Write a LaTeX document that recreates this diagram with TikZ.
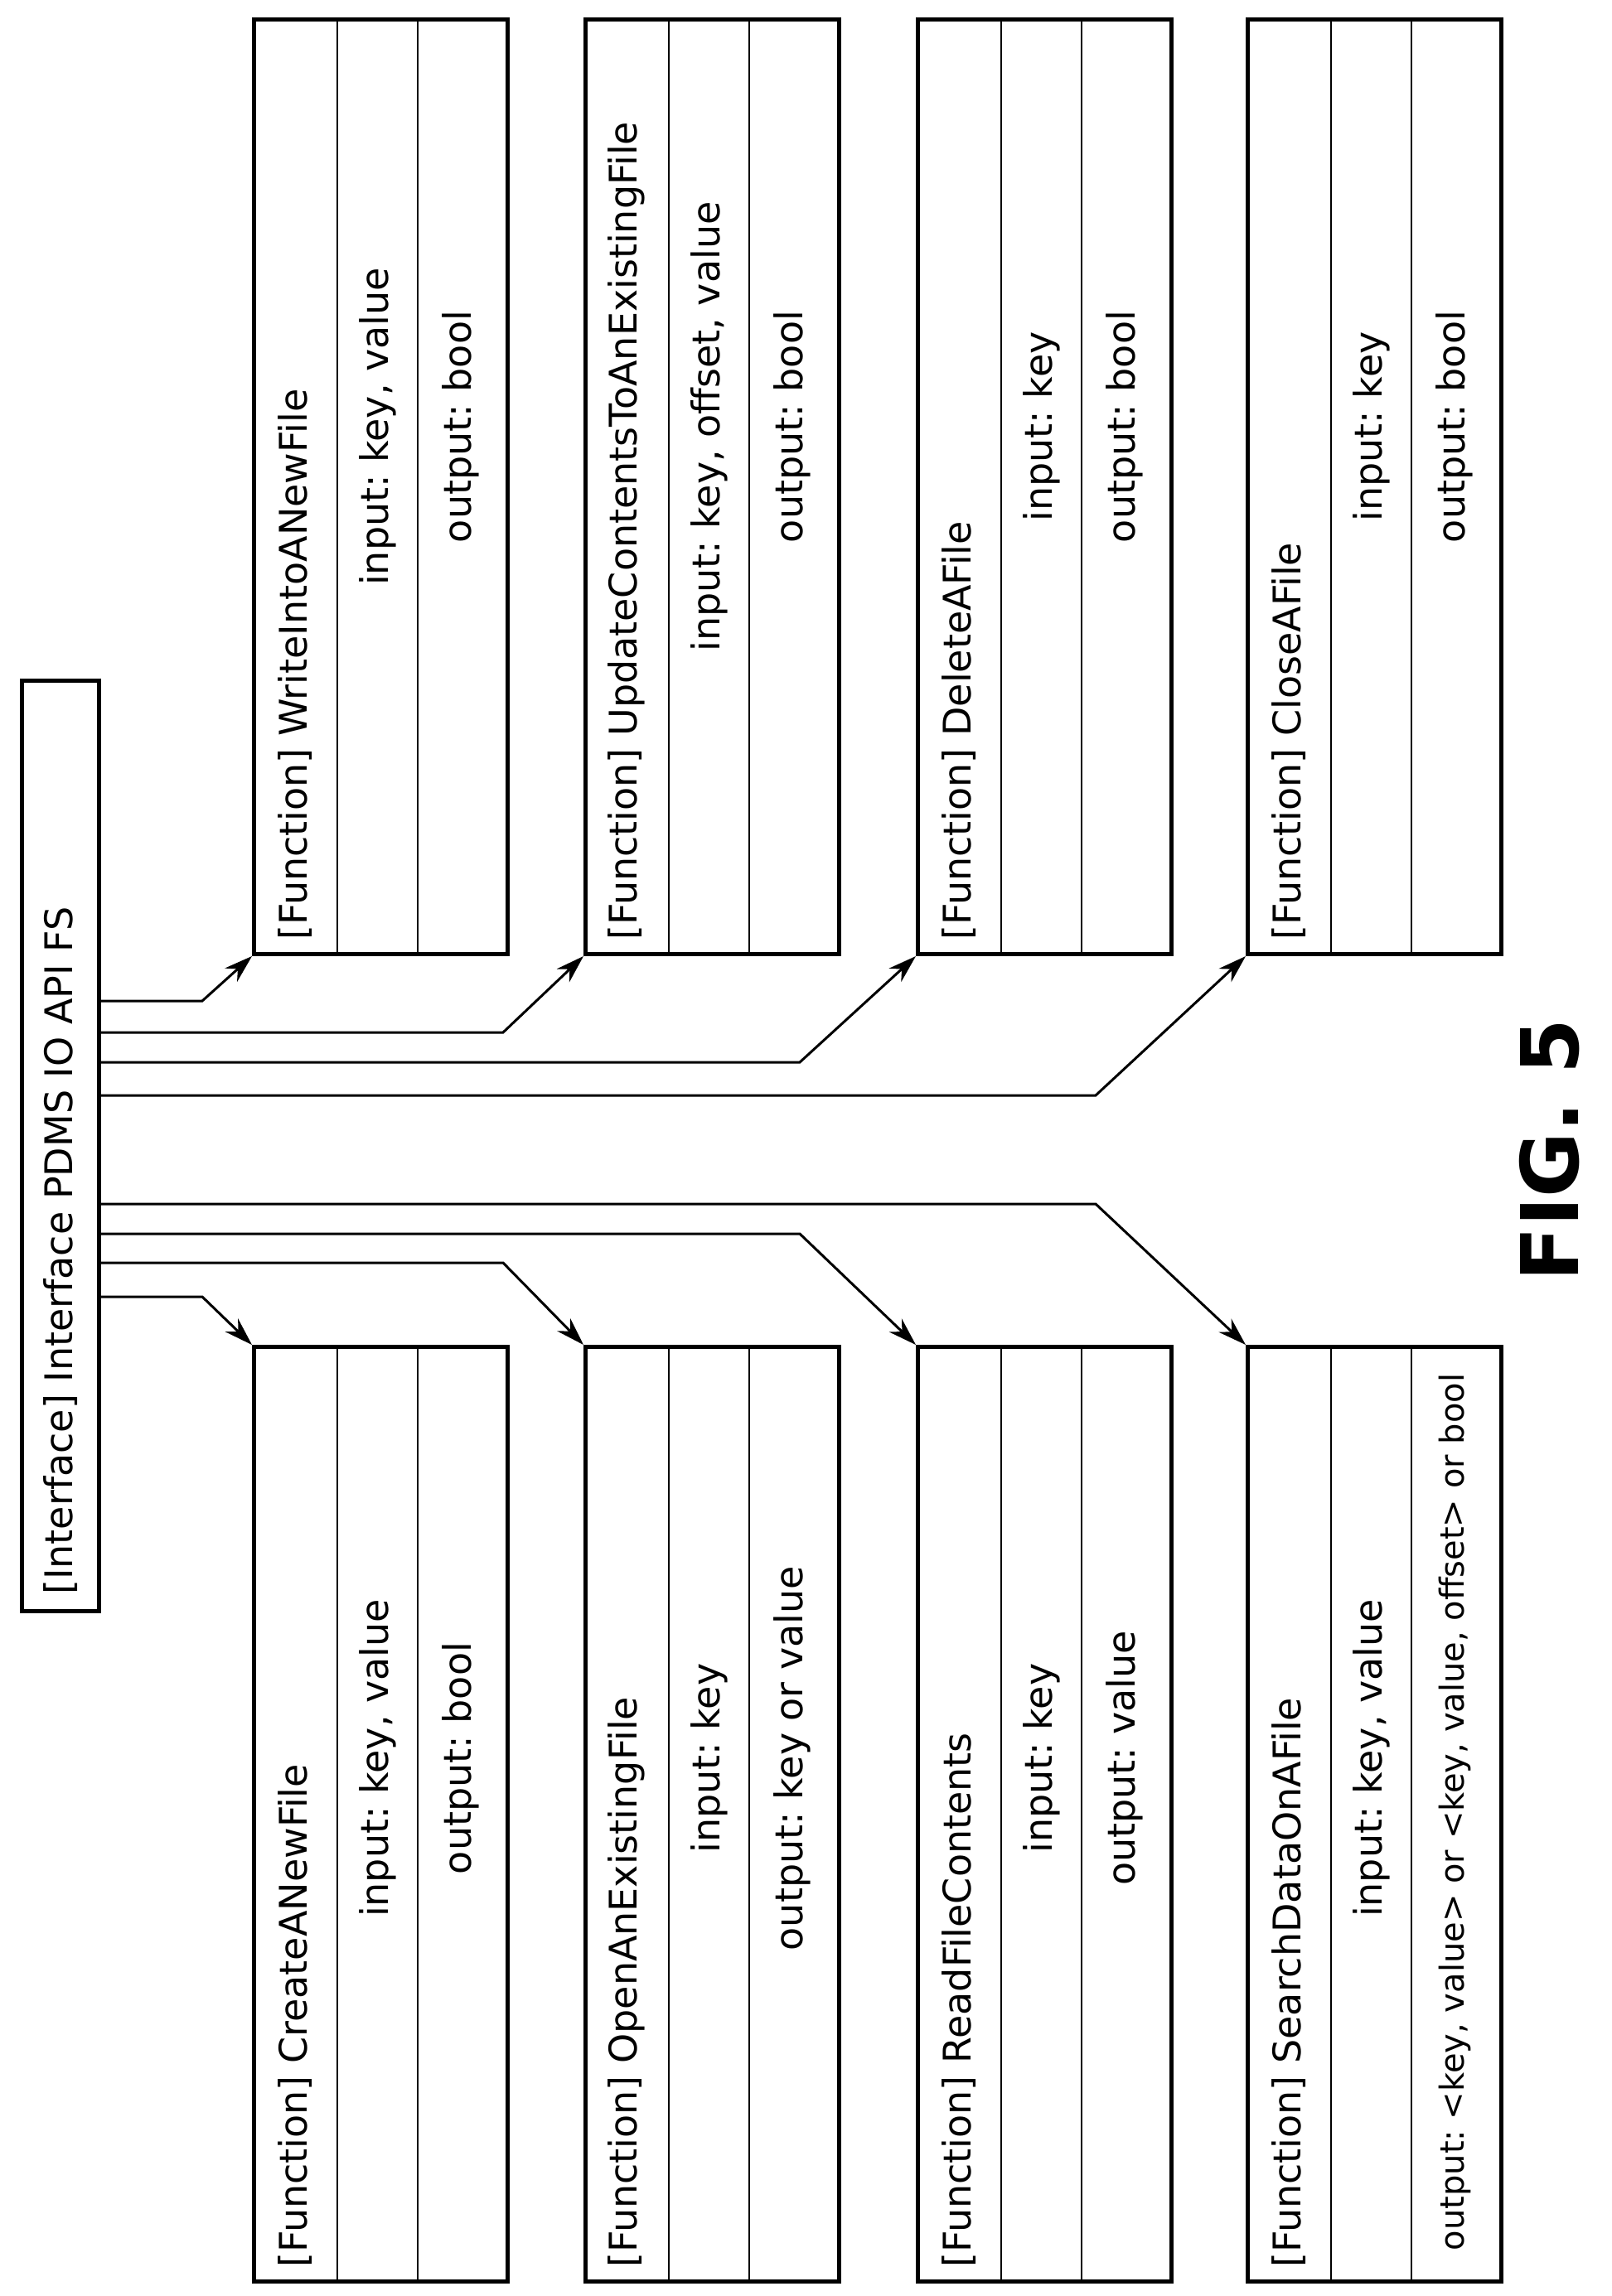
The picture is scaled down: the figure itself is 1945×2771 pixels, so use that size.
\documentclass[tikz,border=0pt]{standalone}
\usepackage{fontspec}
\setmainfont{DejaVu Sans}
\usetikzlibrary{arrows.meta,positioning}
\frenchspacing

\tikzset{
  fbox/.style={draw=black, line width=5pt, minimum width=306pt, minimum height=1128pt, inner sep=0pt},
  ftext/.style={rotate=90, font=\fontsize{46}{52}\selectfont, inner sep=0pt},
  link/.style={line width=3pt, -{Stealth[length=34pt,width=22pt]}}
}

\begin{document}
\begin{tikzpicture}[x=1pt, y=-1pt]
   \useasboundingbox (0,0) rectangle (1945,2771);
   % interface
   \node (ifc) [draw=black, line width=5pt, minimum width=93pt, minimum height=1123pt, inner sep=0pt] at (73,1383) {};
   \node [ftext, anchor=west] at (73,1925) {[Interface] Interface PDMS IO API FS};
   % function boxes above
   \foreach \name/\x/\title/\inp/\outp in {
      wr/304/WriteIntoANewFile/{input: key, value}/{output: bool},
      up/704/UpdateContentsToAnExistingFile/{input: key, offset, value}/{output: bool},
      de/1105/DeleteAFile/{input: key}/{output: bool},
      cl/1503/CloseAFile/{input: key}/{output: bool}} {
     \node (\name) [fbox, anchor=north west] at (\x,21) {};
     \draw [line width=2.5pt] (\x+103,21) -- (\x+103,1149) (\x+200,21) -- (\x+200,1149);
     \node [ftext, anchor=west] at (\x+52,1135) {[Function] \title};
     \node [ftext] at (\x+152,515) {\inp};
     \node [ftext] at (\x+252,515) {\outp};
   }
   % function boxes below
   \foreach \name/\x/\title/\inp/\outp in {
      cr/304/CreateANewFile/{input: key, value}/{output: bool},
      op/704/OpenAnExistingFile/{input: key}/{output: key or value},
      rd/1105/ReadFileContents/{input: key}/{output: value}} {
     \node (\name) [fbox, anchor=north west] at (\x,1623) {};
     \draw [line width=2.5pt] (\x+103,1623) -- (\x+103,2751) (\x+200,1623) -- (\x+200,2751);
     \node [ftext, anchor=west] at (\x+52,2737) {[Function] \title};
     \node [ftext] at (\x+152,2122) {\inp};
     \node [ftext] at (\x+252,2122) {\outp};
   }
   \node (se) [fbox, anchor=north west] at (1503,1623) {};
   \draw [line width=2.5pt] (1606,1623) -- (1606,2751) (1703,1623) -- (1703,2751);
   \node [ftext, anchor=west] at (1555,2737) {[Function] SearchDataOnAFile};
   \node [ftext] at (1655,2122) {input: key, value};
   \node [ftext, font=\fontsize{40}{46}\selectfont] at (1755,2187) {output: <key, value> or <key, value, offset> or bool};
   % links
   \draw [link] (ifc.east |- 0,1208) -- (244,1208) -- (wr.south west);
   \draw [link] (ifc.east |- 0,1246) -- (607,1246) -- (up.south west);
   \draw [link] (ifc.east |- 0,1282) -- (965,1282) -- (de.south west);
   \draw [link] (ifc.east |- 0,1322) -- (1322,1322) -- (cl.south west);
   \draw [link] (ifc.east |- 0,1565) -- (244,1565) -- (cr.north west);
   \draw [link] (ifc.east |- 0,1524) -- (607,1524) -- (op.north west);
   \draw [link] (ifc.east |- 0,1489) -- (965,1489) -- (rd.north west);
   \draw [link] (ifc.east |- 0,1453) -- (1322,1453) -- (se.north west);
   \node (fig) [rotate=90, font=\fontsize{96}{106}\selectfont\bfseries] at (1870,1388) {FIG. 5};
\end{tikzpicture}
\end{document}
